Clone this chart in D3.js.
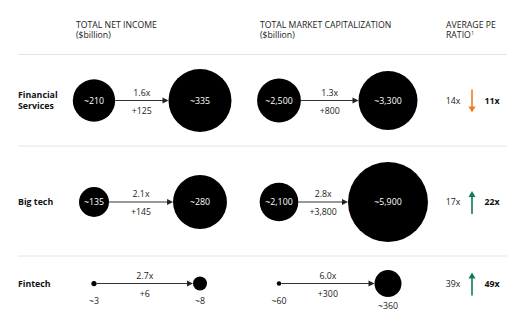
<!DOCTYPE html>
<html>
<head>
<meta charset="utf-8">
<script src="https://cdn.jsdelivr.net/npm/d3@7/dist/d3.min.js"></script>
<style>
  html, body { margin: 0; padding: 0; background: #fff; }
  svg { display: block; font-family: "Open Sans", "Noto Sans", sans-serif; }
</style>
</head>
<body>
<svg id="chart" width="516" height="323"></svg>
<script>
// ---- data ----
const sectors = ["Financial Services", "Big tech", "Fintech"];
const sectorLines = [["Financial", "Services"], ["Big tech"], ["Fintech"]];

const incomeStart = [210, 135, 3];
const incomeEnd = [335, 280, 8];
const incomeMultiple = ["1.6x", "2.1x", "2.7x"];
const incomeChange = ["+125", "+145", "+6"];

const capStart = [2500, 2100, 60];
const capEnd = [3300, 5900, 360];
const capMultiple = ["1.3x", "2.8x", "6.0x"];
const capChange = ["+800", "+3,800", "+300"];

const peStart = [14, 17, 39];
const peEnd = [11, 22, 49];

const headers = [
  { lines: ["TOTAL NET INCOME", "($billion)"], x: 76 },
  { lines: ["TOTAL MARKET CAPITALIZATION", "($billion)"], x: 260 },
  { lines: ["AVERAGE PE", "RATIO"], x: 446, sup: "1" }
];

// ---- layout ----
const svg = d3.select("#chart");
const rowY = d3.scaleOrdinal().domain(sectors).range([100.5, 202, 283.5]);
const separators = [54.5, 146, 256];
const DARK = "#000";
const ORANGE = "#ef7d22";
const GREEN = "#0d7c5a";
const FS = 8.8;
const HFS = 8.7;
const HLINE = 10.8;

// radius scales for the two bubble panels
const rIncome = d3.scaleLinear().domain([0, 8, 135, 335]).range([0, 7, 15, 31.5]);
const rCap = d3.scaleLinear().domain([0, 360, 2300, 3300, 5900]).range([0, 13.5, 20, 29.5, 40]);

const fmt = d3.format(",");

// column headers, one text element per line
headers.forEach(h => {
  h.lines.forEach((ln, i) => {
    const y = 27.5 + i * HLINE;
    const t = svg.append("text").attr("x", h.x).attr("y", y)
      .attr("font-size", HFS).attr("fill", "#222").text(ln);
    if (i === h.lines.length - 1 && h.sup) {
      const w = t.node().getComputedTextLength();
      svg.append("text").attr("x", h.x + w + 0.5).attr("y", y - 3)
        .attr("font-size", 4.5).attr("fill", "#222").text(h.sup);
    }
  });
});

// separators
svg.selectAll("line.sep").data(separators).join("line")
  .attr("class", "sep")
  .attr("x1", 18).attr("x2", 507)
  .attr("y1", d => d).attr("y2", d => d)
  .attr("stroke", "#e4e4e4").attr("stroke-width", 1);

// sector labels
sectors.forEach((s, i) => {
  const lines = sectorLines[i];
  const y0 = rowY(s) + 3 - (lines.length - 1) * 5.5;
  lines.forEach((ln, j) => svg.append("text").attr("x", 18).attr("y", y0 + j * 11)
    .attr("font-size", FS).attr("font-weight", 700).attr("fill", "#111").text(ln));
});

// bubble panel: start bubble -> arrow -> end bubble
function panel(startVals, endVals, mults, changes, rScale, xStart, xEnd) {
  sectors.forEach((s, i) => {
    const cy = rowY(s);
    const r0 = rScale(startVals[i]);
    const r1 = rScale(endVals[i]);
    const small = r1 < 16;

    svg.append("circle").attr("cx", xStart).attr("cy", cy).attr("r", r0).attr("fill", DARK);
    svg.append("circle").attr("cx", xEnd).attr("cy", cy).attr("r", r1).attr("fill", DARK);

    // connector with arrowhead touching the end bubble
    const x1 = xStart + r0;
    const tip = xEnd - r1;
    svg.append("line").attr("x1", x1).attr("x2", tip - 4).attr("y1", cy).attr("y2", cy)
      .attr("stroke", "#333").attr("stroke-width", 1);
    svg.append("path")
      .attr("d", `M${tip},${cy} L${tip - 6},${cy - 3} L${tip - 6},${cy + 3} Z`)
      .attr("fill", "#222");

    const mid = (x1 + tip) / 2;
    svg.append("text").attr("x", mid).attr("y", cy - 5)
      .attr("text-anchor", "middle").attr("font-size", FS).attr("fill", "#222").text(mults[i]);
    svg.append("text").attr("x", mid).attr("y", cy + 13)
      .attr("text-anchor", "middle").attr("font-size", FS).attr("fill", "#222").text(changes[i]);

    const lab = v => "~" + fmt(v);
    if (!small) {
      svg.append("text").attr("x", xStart).attr("y", cy + 3)
        .attr("text-anchor", "middle").attr("font-size", FS).attr("fill", "#fff").text(lab(startVals[i]));
      svg.append("text").attr("x", xEnd).attr("y", cy + 3)
        .attr("text-anchor", "middle").attr("font-size", FS).attr("fill", "#fff").text(lab(endVals[i]));
    } else {
      const below = r => Math.max(cy + 20, cy + r + 12);
      svg.append("text").attr("x", xStart).attr("y", below(r0))
        .attr("text-anchor", "middle").attr("font-size", FS).attr("fill", "#222").text(lab(startVals[i]));
      svg.append("text").attr("x", xEnd).attr("y", below(r1))
        .attr("text-anchor", "middle").attr("font-size", FS).attr("fill", "#222").text(lab(endVals[i]));
    }
  });
}

panel(incomeStart, incomeEnd, incomeMultiple, incomeChange, rIncome, 94, 200);
panel(capStart, capEnd, capMultiple, capChange, rCap, 279, 388);

// PE ratio column
sectors.forEach((s, i) => {
  const cy = rowY(s);
  const up = peEnd[i] > peStart[i];
  const col = up ? GREEN : ORANGE;
  svg.append("text").attr("x", 453).attr("y", cy + 3)
    .attr("text-anchor", "middle").attr("font-size", FS).attr("fill", "#222").text(peStart[i] + "x");
  svg.append("text").attr("x", 492).attr("y", cy + 3)
    .attr("text-anchor", "middle").attr("font-size", FS).attr("font-weight", 700).attr("fill", "#111").text(peEnd[i] + "x");
  const yTop = cy - 11, yBot = cy + 12;
  const ax = 472;
  if (up) {
    svg.append("line").attr("x1", ax).attr("x2", ax).attr("y1", yTop + 5).attr("y2", yBot)
      .attr("stroke", col).attr("stroke-width", 1.6);
    svg.append("path").attr("d", `M${ax},${yTop} L${ax - 3.5},${yTop + 6} L${ax + 3.5},${yTop + 6} Z`).attr("fill", col);
  } else {
    svg.append("line").attr("x1", ax).attr("x2", ax).attr("y1", yTop).attr("y2", yBot - 5)
      .attr("stroke", col).attr("stroke-width", 1.6);
    svg.append("path").attr("d", `M${ax},${yBot} L${ax - 3.5},${yBot - 6} L${ax + 3.5},${yBot - 6} Z`).attr("fill", col);
  }
});
</script>
</body>
</html>
